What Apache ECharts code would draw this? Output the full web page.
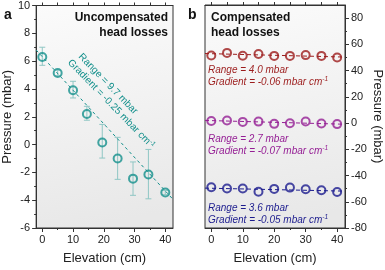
<!DOCTYPE html>
<html><head><meta charset="utf-8">
<script src="https://cdn.jsdelivr.net/npm/echarts@6/dist/echarts.min.js"></script>
<style>html,body{margin:0;padding:0;background:#fff}#c{width:385px;height:270px}</style>
</head><body><div id="c"></div>
<script>
// ---- data ----
const elevA = [0, 5, 10, 14.5, 19.5, 24.5, 29.5, 34.5, 40];
const pressA = [6.3, 5.15, 3.9, 2.2, 0.15, -1.0, -2.45, -2.15, -3.45];
const errLowA = [5.7, 4.95, 3.35, 1.75, -0.97, -2.5, -3.65, -3.9, -3.6];
const errHighA = [7.0, 5.35, 4.55, 2.75, 1.45, 0.52, -1.25, -0.35, -3.3];
const fitAX = [-2, 42.5];
const fitAY = [6.8, -3.94];

const elevB = [0, 5, 10, 15, 20, 25, 30, 35, 40];
const redB = [51.5, 53.5, 51.3, 52.6, 51.2, 51.2, 51.8, 51.2, 50.0];
const purpleB = [1.6, 1.9, 0.9, 1.1, -0.6, -0.2, 1.2, -0.3, -0.8];
const blueB = [-49.0, -49.9, -49.9, -52.4, -50.2, -49.2, -50.4, -51.2, -52.6];
const fitBX = [-2, 42.5];
const fitRed = [53.0, 50.3];
const fitPurple = [2.0, -0.9];
const fitBlue = [-49.6, -51.9];

const xTicks = [0, 10, 20, 30, 40];
const xMinor = [5, 15, 25, 35];
const xTop = [0, 5, 10, 15, 20, 25, 30, 35, 40];
const yTicksB = [-80, -60, -40, -20, 0, 20, 40, 60, 80];
const yMinorB = [-70, -50, -30, -10, 10, 30, 50, 70];

const TEAL = '#14908c', RED = '#9c1c1c', PURPLE = '#951f95', BLUE = '#1c1c8e';
const FONT = 'Liberation Sans, Arial, sans-serif';

const bg = {type:'linear', x:0, y:0, x2:0.3, y2:1, colorStops:[{offset:0,color:'#fbfbfb'},{offset:1,color:'#e8e8e8'}]};
const pair = (xs, ys) => xs.map((x, i) => [x, ys[i]]);
const AL = {show:true, onZero:false, lineStyle:{color:'#333'}};

function xAxesFor(g) {
  return [
    {gridIndex:g, type:'value', position:'bottom', min:-2, max:42.5,
     axisLine:AL,
     axisTick:{show:true, inside:false, length:4, customValues:xTicks, lineStyle:{color:'#333'}},
     axisLabel:{show:true, customValues:xTicks, color:'#222', fontSize:11, fontFamily:FONT, margin:6},
     splitLine:{show:false},
     name:'Elevation (cm)', nameLocation:'middle', nameGap:24,
     nameTextStyle:{fontSize:13, color:'#222', fontFamily:FONT}},
    {gridIndex:g, type:'value', position:'bottom', min:-2, max:42.5,
     axisLine:{show:false, onZero:false}, axisTick:{show:true, length:2, customValues:xMinor, lineStyle:{color:'#333'}},
     axisLabel:{show:false}, splitLine:{show:false}},
    {gridIndex:g, type:'value', position:'top', min:-2, max:42.5,
     axisLine:AL, axisTick:{show:true, length:3, customValues:xTop, lineStyle:{color:'#333'}},
     axisLabel:{show:false}, splitLine:{show:false}}
  ];
}

const option = {
  animation:false,
  textStyle:{fontFamily:FONT},
  grid:[
    {left:34, right:212, top:5, bottom:38, show:true, backgroundColor:bg, borderColor:'#333', borderWidth:1},
    {left:205, right:38, top:5, bottom:38, show:true, backgroundColor:bg, borderColor:'#333', borderWidth:1}
  ],
  xAxis:[...xAxesFor(0), ...xAxesFor(1)],
  yAxis:[
    {gridIndex:0, type:'value', position:'left', min:-6, max:10, interval:2,
     axisLine:AL,
     axisTick:{show:true, length:4, lineStyle:{color:'#333'}},
     minorTick:{show:true, splitNumber:2, length:2, lineStyle:{color:'#333'}},
     axisLabel:{color:'#222', fontSize:11, fontFamily:FONT, margin:6},
     splitLine:{show:false},
     name:'Pressure (mbar)', nameLocation:'middle', nameGap:20,
     nameTextStyle:{fontSize:13, color:'#222', fontFamily:FONT}},
    {gridIndex:1, type:'value', position:'right', min:-80, max:90,
     axisLine:AL,
     axisTick:{show:true, length:4, customValues:yTicksB, lineStyle:{color:'#333'}},
     axisLabel:{customValues:yTicksB, color:'#222', fontSize:11, fontFamily:FONT, margin:6},
     splitLine:{show:false},
     name:'Pressure (mbar)', nameLocation:'middle', nameGap:26, nameRotate:-90,
     nameTextStyle:{fontSize:13, color:'#222', fontFamily:FONT}},
    {gridIndex:1, type:'value', position:'right', min:-80, max:90,
     axisLine:{show:false, onZero:false}, axisTick:{show:true, length:2, customValues:yMinorB, lineStyle:{color:'#333'}},
     axisLabel:{show:false}, splitLine:{show:false}}
  ],
  series:[
    {type:'custom', xAxisIndex:0, yAxisIndex:0, coordinateSystem:'cartesian2d',
     data: elevA.map((x, i) => [x, errLowA[i], errHighA[i]]),
     encode:{x:0, y:[1,2]},
     renderItem:function(params, api){
       const x = api.value(0), lo = api.coord([x, api.value(1)]), hi = api.coord([x, api.value(2)]);
       const st = {stroke:'#8fc6c4', lineWidth:1};
       return {type:'group', children:[
         {type:'line', shape:{x1:lo[0], y1:lo[1], x2:hi[0], y2:hi[1]}, style:st},
         {type:'line', shape:{x1:lo[0]-3, y1:lo[1], x2:lo[0]+3, y2:lo[1]}, style:st},
         {type:'line', shape:{x1:hi[0]-3, y1:hi[1], x2:hi[0]+3, y2:hi[1]}, style:st}
       ]};
     }},
    {type:'line', xAxisIndex:0, yAxisIndex:0, data:pair(fitAX, fitAY), symbol:'none',
     lineStyle:{color:TEAL, width:1, type:[3,3]}, silent:true},
    {type:'scatter', xAxisIndex:0, yAxisIndex:0, data:pair(elevA, pressA), symbol:'circle', symbolSize:8,
     itemStyle:{color:'rgba(0,0,0,0)', borderColor:TEAL, borderWidth:2}},

    {type:'line', xAxisIndex:3, yAxisIndex:1, data:pair(fitBX, fitRed), symbol:'none',
     lineStyle:{color:RED, width:1, type:[4,3]}},
    {type:'line', xAxisIndex:3, yAxisIndex:1, data:pair(fitBX, fitPurple), symbol:'none',
     lineStyle:{color:PURPLE, width:1, type:[4,3]}},
    {type:'line', xAxisIndex:3, yAxisIndex:1, data:pair(fitBX, fitBlue), symbol:'none',
     lineStyle:{color:BLUE, width:1, type:[4,3]}},
    {type:'scatter', xAxisIndex:3, yAxisIndex:1, data:pair(elevB, redB), symbolSize:8,
     itemStyle:{color:'rgba(0,0,0,0)', borderColor:RED, borderWidth:2}},
    {type:'scatter', xAxisIndex:3, yAxisIndex:1, data:pair(elevB, purpleB), symbolSize:8,
     itemStyle:{color:'rgba(0,0,0,0)', borderColor:PURPLE, borderWidth:2}},
    {type:'scatter', xAxisIndex:3, yAxisIndex:1, data:pair(elevB, blueB), symbolSize:8,
     itemStyle:{color:'rgba(0,0,0,0)', borderColor:BLUE, borderWidth:2}}
  ],
  graphic:[]
};

const G = option.graphic;
G.push({type:'text', x:4, y:8, style:{text:'a', font:'bold 14px ' + FONT, fill:'#111'}});
G.push({type:'text', x:188, y:8, style:{text:'b', font:'bold 14px ' + FONT, fill:'#111'}});
G.push({type:'text', x:168, y:10, style:{text:'Uncompensated\nhead losses', font:'bold 12px ' + FONT, fill:'#111', align:'right', lineHeight:15}});
G.push({type:'text', x:211, y:10, style:{text:'Compensated\nhead losses', font:'bold 12px ' + FONT, fill:'#111', align:'left', lineHeight:15}});
// rotated teal labels
G.push({type:'text', x:108, y:84, rotation:-0.8, silent:true,
  style:{text:'Range = 9.7 mbar', font:'10px ' + FONT, fill:TEAL, align:'center', verticalAlign:'middle'}});
G.push({type:'text', x:111, y:104, rotation:-0.8, silent:true,
  style:{text:'Gradient = -0.25 mbar cm{sup|-1}', font:'10px ' + FONT, fill:TEAL, align:'center', verticalAlign:'middle',
         rich:{sup:{fontSize:6.5, fill:TEAL, verticalAlign:'top', padding:[0,0,5,0]}}}});
function bLabels(y1, y2, color, rng, grad) {
  G.push({type:'text', x:208, y:y1, silent:true, style:{text:'Range = ' + rng + ' mbar', font:'italic 10px ' + FONT, fill:color, verticalAlign:'middle'}});
  G.push({type:'text', x:208, y:y2, silent:true, style:{text:'Gradient = ' + grad + ' mbar cm{sup|-1}', font:'italic 10px ' + FONT, fill:color, verticalAlign:'middle',
    rich:{sup:{fontSize:6.5, fill:color, fontStyle:'italic', verticalAlign:'top', padding:[0,0,5,0]}}}});
}
bLabels(70, 82, RED, '4.0', '-0.06');
bLabels(139, 151, PURPLE, '2.7', '-0.07');
bLabels(208, 220, BLUE, '3.6', '-0.05');

const chart = echarts.init(document.getElementById('c'), null, {renderer:'canvas'});
chart.setOption(option);
</script></body></html>
